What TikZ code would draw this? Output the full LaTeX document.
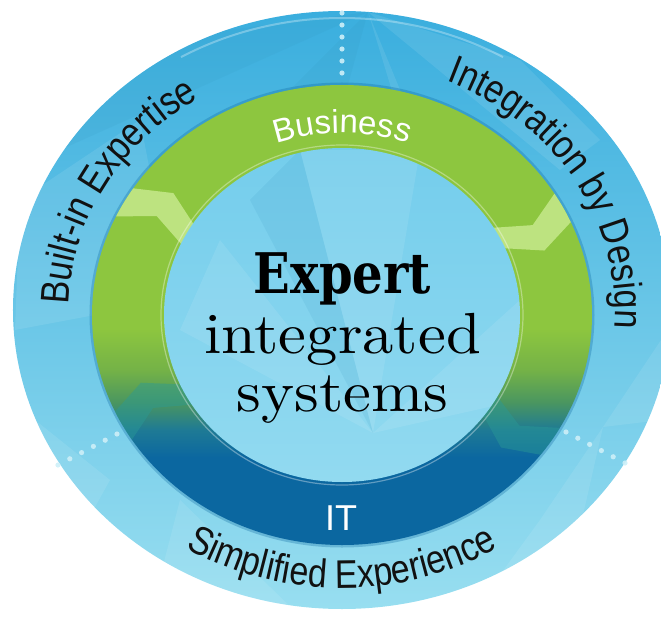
\documentclass[tikz,border=0pt]{standalone}
\usepackage{fontspec}
\usetikzlibrary{decorations.text}

% fonts
\newfontfamily\lblfont[FakeStretch=0.85]{Liberation Sans}
\newfontfamily\ringfont{Liberation Sans}
\newfontfamily\slabfont[FakeStretch=0.86]{DejaVu Serif}
\newfontfamily\thinfont[FakeStretch=1.08]{lmroman10-regular.otf}
\newcommand\outerfont{\lblfont\fontsize{40}{40}\selectfont}
\newcommand\bandfont{\ringfont\fontsize{33}{33}\selectfont}

% colours
\definecolor{discTop}{HTML}{3AAEDE}
\definecolor{discMid}{HTML}{6BC8EA}
\definecolor{discLow}{HTML}{98DEF0}
\definecolor{coreTop}{HTML}{74CDEC}
\definecolor{coreLow}{HTML}{92DAF0}
\definecolor{ringgreen}{HTML}{8DC63F}
\definecolor{ringleaf}{HTML}{74B247}
\definecolor{ringolive}{HTML}{4A9660}
\definecolor{ringteal}{HTML}{1E7A95}
\definecolor{ringblue}{HTML}{0B67A0}
\definecolor{chevlight}{HTML}{C6E98C}
\definecolor{chevteal}{HTML}{2A9A96}
\definecolor{dotcol}{HTML}{CDEFF8}
\definecolor{labelink}{HTML}{111111}

\pgfdeclareverticalshading{ringshade}{100bp}{color(0bp)=(ringblue); color(34.5bp)=(ringblue);
  color(37.5bp)=(ringteal); color(40.5bp)=(ringolive); color(44bp)=(ringleaf);
  color(48.5bp)=(ringgreen); color(100bp)=(ringgreen)}

\tikzset{
  outerlabel/.style={decorate, decoration={text along path, text align=center,
      text color=labelink, text={|\outerfont|#1}}},
  bandlabel/.style={decorate, decoration={text along path, text align=center,
      text color=white, text={|\bandfont|#1}}},
  facetlight/.style={fill=white, fill opacity=0.09},
  facetdark/.style={fill=discTop!85!black, fill opacity=0.12},
  sepdot/.style={fill=dotcol, fill opacity=0.9},
}

\begin{document}
\begin{tikzpicture}[x=1pt, y=1pt]
    \useasboundingbox (-342,-306) rectangle (319,310);
    \clip (-342,-306) rectangle (319,310);

    % draw outer disc
    \shade[top color=discTop, middle color=discMid, bottom color=discLow]
        (0,0) ellipse [x radius=329, y radius=299];

    % draw facets of the outer disc
    \begin{scope}
        \clip (0,0) ellipse [x radius=329, y radius=299];
        \begin{scope}[shift={(-342,310)}, yscale=-1]
            \fill[facetdark] (368,12) -- (230,150) -- (300,260) -- cycle;
            \fill[facetlight] (368,12) -- (410,150) -- (470,260) -- cycle;
            \fill[facetlight] (368,12) -- (520,60) -- (600,140) -- (560,170) -- cycle;
            \fill[facetdark] (368,12) -- (150,40) -- (60,150) -- cycle;
            \fill[facetlight] (20,200) -- (140,120) -- (175,300) -- (15,330) -- cycle;
            \fill[facetlight] (603,427) -- (661,340) -- (661,420) -- cycle;
            \fill[facetlight] (603,427) -- (540,520) -- (470,616) -- (560,616) -- cycle;
            \fill[facetlight] (10,400) -- (110,480) -- (60,570) -- cycle;
            \fill[facetlight] (180,500) -- (300,616) -- (150,616) -- cycle;
        \end{scope}
        \draw[white, opacity=0.3, line width=2] (60:322 and 292) arc [start angle=60, end angle=120, x radius=322, y radius=292];
    \end{scope}

    % draw separator dots
    \foreach \i in {0,...,5} {
        \fill[sepdot] (0,297-12*\i) circle (2.6);
        \fill[sepdot] (-225-11.8*\i,-124-6.2*\i) circle (2.6);
        \fill[sepdot] (224+11.8*\i,-122-6.2*\i) circle (2.6);
    }

    % draw ring with chevrons
    \begin{scope}[yshift=-5]
        \draw[ringblue, opacity=0.3, line width=3] (0,0) ellipse [x radius=251, y radius=231];
        \begin{scope}
            \clip (0,0) ellipse [x radius=250, y radius=230];
            \shade[shading=ringshade] (0,0) ellipse [x radius=250, y radius=230];
            \foreach \a/\c/\o in {142/chevlight/0.85, 19/chevlight/0.85, 200/chevteal/0.45, -42/chevteal/0.45}
                \fill[\c, opacity=\o] (\a+6:262 and 242) -- (\a:214 and 198) -- (\a+6:170 and 159)
                    -- (\a+14:170 and 159) -- (\a+8:214 and 198) -- (\a+14:262 and 242) -- cycle;
        \end{scope}

        % draw inner disc
        \shade[top color=coreTop, bottom color=coreLow] (0,0) ellipse [x radius=178, y radius=167];
        \begin{scope}
            \clip (0,0) ellipse [x radius=178, y radius=167];
            \begin{scope}[shift={(-342,315)}, yscale=-1]
                \fill[facetlight] (373,433) -- (180,330) -- (220,240) -- cycle;
                \fill[facetlight] (373,433) -- (300,150) -- (420,150) -- cycle;
                \fill[facetlight] (373,433) -- (520,300) -- (520,400) -- cycle;
                \fill[facetdark] (373,433) -- (250,200) -- (300,150) -- cycle;
            \end{scope}
        \end{scope}
        \draw[white, opacity=0.35, line width=1.2] (0,0) ellipse [x radius=181, y radius=170];

        % draw ring labels
        \path[bandlabel={Business}] (135:196 and 182) arc [start angle=135, end angle=45, x radius=196, y radius=182];
    \end{scope}
    \node[anchor=base, inner sep=0, text=white, font={\ringfont\fontsize{36}{36}\selectfont}] (it) at (-1,-220) {IT};

    % draw outer labels
    \path[outerlabel={Built-in Expertise}] (201:273 and 248) arc [start angle=201, end angle=101, x radius=273, y radius=248];
    \path[outerlabel={Integration by Design}] (81:273 and 248) arc [start angle=81, end angle=-19, x radius=273, y radius=248];
    \path[outerlabel={Simplified Experience}] (215:303 and 278) arc [start angle=215, end angle=325, x radius=303, y radius=278];

    % draw centre title
    \node[anchor=base, inner sep=0, font={\slabfont\bfseries\fontsize{56}{56}\selectfont}] (expert) at (0.5,17) {Expert};
    \node[anchor=base, inner sep=0, font={\thinfont\fontsize{58}{58}\selectfont}] (integrated) at (0.5,-43) {integrated};
    \node[anchor=base, inner sep=0, font={\thinfont\fontsize{58}{58}\selectfont}] (systems) at (0.5,-101) {systems};
\end{tikzpicture}
\end{document}
